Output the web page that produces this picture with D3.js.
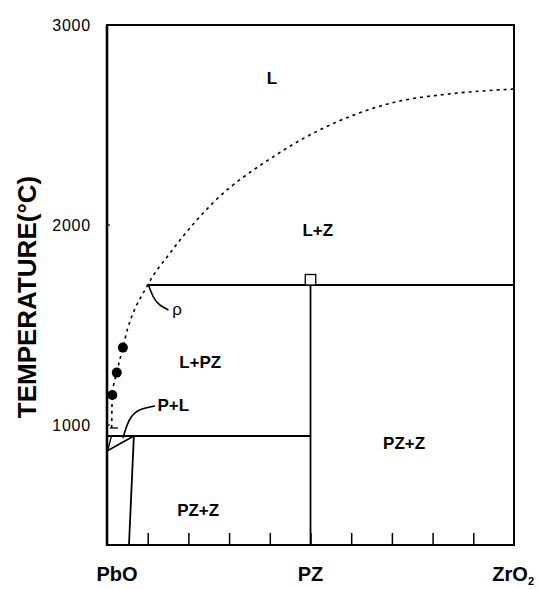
<!DOCTYPE html>
<html>
<head>
<meta charset="utf-8">
<script src="https://cdn.jsdelivr.net/npm/d3@7"></script>
<style>
  body { margin: 0; background: #fff; }
  text { font-family: "Liberation Sans", Arial, Helvetica, sans-serif; fill: #000; }
</style>
</head>
<body>
<svg id="chart" width="540" height="589"></svg>
<script>
// Temperature axis (°C) and composition axis (mol % ZrO2)
const yTickValues = [1000, 2000, 3000];
const compositionTicks = [10, 20, 30, 40, 50, 60, 70, 80, 90];
const endMembers = ["PbO", "PZ", "ZrO"];
const endMemberComp = [0, 50, 100];

// Liquidus (dashed): [mol % ZrO2, T °C]
const liquidusComp = [1.15, 1.3, 2.4, 3.9, 4.4, 10, 15.5, 26.5, 40, 57, 72, 84, 100];
const liquidusTemp = [985, 1150, 1262, 1387, 1430, 1700, 1860, 2120, 2330, 2520, 2620, 2655, 2680];

// Measured melting points
const pointComp = [1.3, 2.4, 3.9];
const pointTemp = [1150, 1262, 1387];

// Invariant temperatures
const peritecticT = 1700;
const eutecticT = 945;
const minT = 400, maxT = 3000;

// Phase-field labels
const fieldNames = ["L", "L+Z", "L+PZ", "P+L", "PZ+Z", "PZ+Z", "ρ"];
const fieldComp  = [40.5, 51.8, 22.9, 12.4, 22.4, 73, 17.2];
const fieldTemp  = [2735, 1975, 1315, 1100, 575, 910, 1580];

const svg = d3.select("#chart");
const x = d3.scaleLinear().domain([0, 100]).range([107, 514]);
const y = d3.scaleLinear().domain([minT, maxT]).range([545, 25]);

const g = svg.append("g");

// Frame
g.append("rect")
  .attr("x", x(0)).attr("y", y(maxT))
  .attr("width", x(100) - x(0)).attr("height", y(minT) - y(maxT))
  .attr("fill", "none").attr("stroke", "#000").attr("stroke-width", 2);
g.append("line")
  .attr("x1", x(0)).attr("x2", x(0)).attr("y1", y(maxT)).attr("y2", y(minT))
  .attr("stroke", "#000").attr("stroke-width", 2.6);

// Composition ticks (inward from bottom)
const xAxis = d3.axisTop(x).tickValues(compositionTicks).tickSize(12).tickFormat("");
g.append("g").attr("transform", `translate(0,${y(minT)})`).call(xAxis)
  .call(s => s.select(".domain").remove())
  .selectAll("line").attr("stroke", "#000").attr("stroke-width", 1.5);

// Temperature axis labels
const yAxis = d3.axisLeft(y).tickValues(yTickValues).tickSize(0).tickPadding(16).tickFormat(d3.format("d"));
g.append("g").attr("transform", `translate(${x(0)},0)`).call(yAxis)
  .call(s => s.select(".domain").remove())
  .selectAll("text").style("font-size", "16px").attr("letter-spacing", "0.8px");
// small inward tick marks on the temperature axis
g.selectAll(".ytick").data([1000, 2000]).join("line")
  .attr("x1", x(0)).attr("x2", x(0) + 3)
  .attr("y1", d => y(d)).attr("y2", d => y(d))
  .attr("stroke", "#000").attr("stroke-width", 1.2);

// Axis title
svg.append("text")
  .attr("transform", `translate(36,297) rotate(-90)`)
  .attr("text-anchor", "middle")
  .style("font-size", "26px").style("font-weight", "bold")
  .text("TEMPERATURE(°C)");

// End-member labels
const bottom = svg.append("g");
endMembers.forEach((n, i) => {
  const t = bottom.append("text")
    .attr("x", i === 0 ? x(0) + 10 : i === 2 ? 534 : x(endMemberComp[i]))
    .attr("y", 581)
    .attr("text-anchor", i === 2 ? "end" : "middle")
    .style("font-size", "20px").style("font-weight", "bold")
    .text(n);
  if (i === 2) t.append("tspan").attr("dy", 4).style("font-size", "11px").text("2");
});

const line = d3.line().x(d => x(d[0])).y(d => y(d[1]));

// Liquidus
const liq = liquidusComp.map((c, i) => [c, liquidusTemp[i]]);
g.append("path")
  .attr("d", line.curve(d3.curveMonotoneX)(liq))
  .attr("fill", "none").attr("stroke", "#000").attr("stroke-width", 1.6)
  .attr("stroke-dasharray", "3,4");

line.curve(d3.curveLinear);
const solid = (pts, w = 1.8) => g.append("path").attr("d", line(pts))
  .attr("fill", "none").attr("stroke", "#000").attr("stroke-width", w);

// Peritectic horizontal and PZ line
solid([[10, peritecticT], [100, peritecticT]]);
solid([[50, peritecticT], [50, minT]]);
// Eutectic horizontal
solid([[0, eutecticT], [50, eutecticT]]);
// PbO-rich boundaries
solid([[0, 870], [6.6, eutecticT]], 1.5);
solid([[6.6, eutecticT], [5.4, minT]], 1.8);
solid([[1.1, eutecticT], [0.2, 875]], 1.3);
// short mark at the lower liquidus end
solid([[0.7, 985], [2.7, 985]], 1.3);

// Congruent point marker on PZ
const sq = 10.5;
g.append("rect")
  .attr("x", x(50) - sq / 2).attr("y", y(peritecticT) - sq)
  .attr("width", sq).attr("height", sq)
  .attr("fill", "#fff").attr("stroke", "#000").attr("stroke-width", 1.3);

// Measured points
g.selectAll(".pt").data(pointComp).join("circle")
  .attr("cx", d => x(d)).attr("cy", (d, i) => y(pointTemp[i]))
  .attr("r", 5).attr("fill", "#000");

// Leader curves for ρ and P+L
const curve = d3.line().x(d => x(d[0])).y(d => y(d[1])).curve(d3.curveNatural);
g.append("path").attr("d", curve([[10.1, 1705], [11.4, 1640], [13, 1600], [15.1, 1575]]))
  .attr("fill", "none").attr("stroke", "#000").attr("stroke-width", 1.6);
g.append("path").attr("d", curve([[3.9, 935], [5.5, 1025], [8, 1075], [11.8, 1095]]))
  .attr("fill", "none").attr("stroke", "#000").attr("stroke-width", 1.6);

// Field labels
fieldNames.forEach((n, i) => {
  g.append("text")
    .attr("x", x(fieldComp[i])).attr("y", y(fieldTemp[i]))
    .attr("dy", "0.36em")
    .attr("text-anchor", n === "P+L" ? "start" : "middle")
    .style("font-size", "17px")
    .style("font-weight", n === "ρ" ? "normal" : "bold")
    .text(n);
});
</script>
</body>
</html>
